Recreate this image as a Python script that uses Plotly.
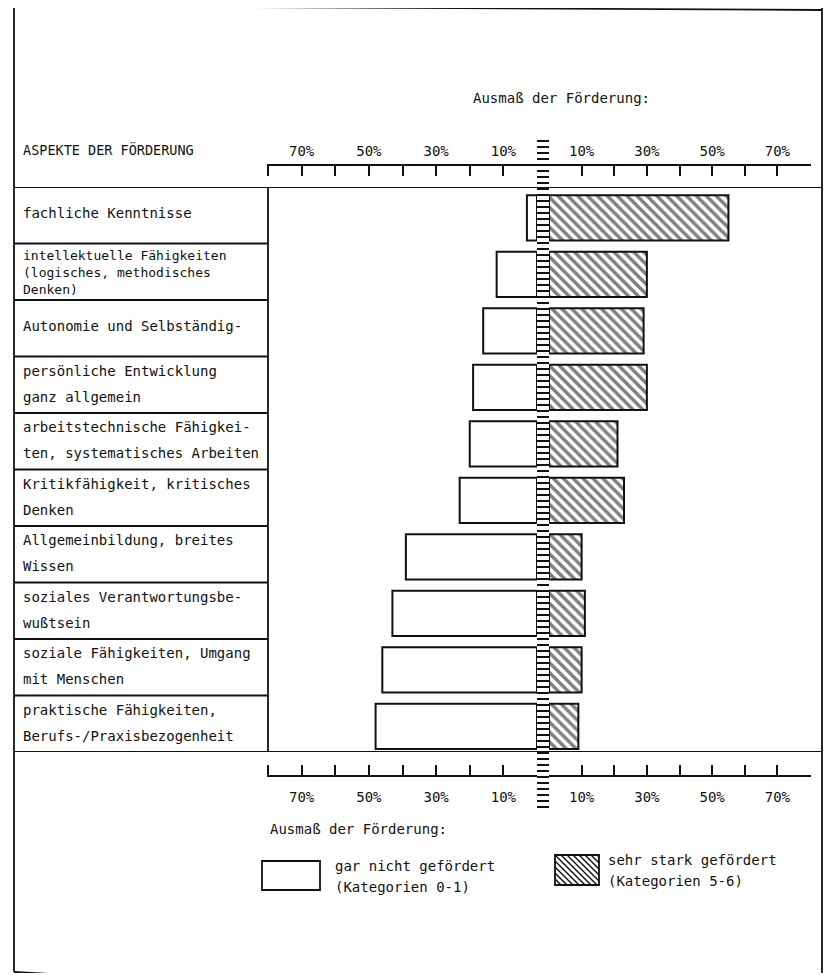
import plotly.graph_objects as go

# ---------------- data ----------------
categories = [
    "fachliche Kenntnisse",
    "intellektuelle Fähigkeiten (logisches, methodisches Denken)",
    "Autonomie und Selbständig-",
    "persönliche Entwicklung ganz allgemein",
    "arbeitstechnische Fähigkeiten, systematisches Arbeiten",
    "Kritikfähigkeit, kritisches Denken",
    "Allgemeinbildung, breites Wissen",
    "soziales Verantwortungsbewußtsein",
    "soziale Fähigkeiten, Umgang mit Menschen",
    "praktische Fähigkeiten, Berufs-/Praxisbezogenheit",
]
label_lines = [
    ["fachliche Kenntnisse"],
    ["intellektuelle Fähigkeiten", "(logisches, methodisches", "Denken)"],
    ["Autonomie und Selbständig-"],
    ["persönliche Entwicklung", "ganz allgemein"],
    ["arbeitstechnische Fähigkei-", "ten, systematisches Arbeiten"],
    ["Kritikfähigkeit, kritisches", "Denken"],
    ["Allgemeinbildung, breites", "Wissen"],
    ["soziales Verantwortungsbe-", "wußtsein"],
    ["soziale Fähigkeiten, Umgang", "mit Menschen"],
    ["praktische Fähigkeiten,", "Berufs-/Praxisbezogenheit"],
]
gar_nicht = [3, 12, 16, 19, 20, 23, 39, 43, 46, 48]      # Kategorien 0-1 (left)
sehr_stark = [55, 30, 29, 30, 21, 23, 10, 11, 10, 9]     # Kategorien 5-6 (right)
major_ticks = [10, 30, 50, 70, 80]
tick_text = ["10%", "30%", "50%", "70%", ""]
minor_ticks = [20, 40, 60]

header_title = "Ausmaß der Förderung:"
column_title = "ASPEKTE DER FÖRDERUNG"
legend_left = ["gar nicht gefördert", "(Kategorien 0-1)"]
legend_right = ["sehr stark gefördert", "(Kategorien 5-6)"]

# ---------------- layout helpers ----------------
OFF = 8                     # default page body margin
W, H = 830, 965
FONT = "DejaVu Sans Mono"
BLACK = "#111111"


def px(x):
    return (x - OFF) / W


def py(y):
    return 1 - (y - OFF) / H


LEFT0, LEFT_END = 537, 268
RIGHT0, RIGHT_END = 549, 810
TOP_PLOT, BOT_PLOT = 187, 752
LBL_X = 14
FRAME_R = 822
PAD = 0.3   # tiny range padding so the end ticks (80) are drawn

fig = go.Figure()
idx = list(range(len(categories)))

fig.add_trace(go.Bar(
    y=idx, x=gar_nicht, orientation="h", xaxis="x", yaxis="y",
    width=0.8, offset=-0.355,
    marker=dict(color="white", line=dict(color=BLACK, width=2)),
    name=legend_left[0], showlegend=False, hoverinfo="x",
))
fig.add_trace(go.Bar(
    y=idx, x=sehr_stark, orientation="h", xaxis="x2", yaxis="y",
    width=0.8, offset=-0.355,
    marker=dict(color="white", line=dict(color=BLACK, width=2),
                pattern=dict(shape="\\", fgcolor="#000000", bgcolor="white",
                             size=7, solidity=0.48)),
    name=legend_right[0], showlegend=False, hoverinfo="x",
))
# invisible helpers so the bottom axes render
for ax in ("x3", "x4"):
    fig.add_trace(go.Scatter(x=[0, 80], y=[0, 0], xaxis=ax, yaxis="y",
                             mode="markers", marker=dict(opacity=0),
                             showlegend=False, hoverinfo="skip"))


def axis(domain, rng, pos, side, standoff):
    return dict(
        domain=domain, range=rng, anchor="free", position=pos, side=side,
        showline=True, linecolor=BLACK, linewidth=1.8,
        ticks="inside", ticklen=10, tickwidth=1.8, tickcolor=BLACK,
        tickvals=major_ticks, ticktext=tick_text, ticklabelstandoff=standoff,
        tickfont=dict(family=FONT, size=14, color=BLACK),
        minor=dict(tickvals=minor_ticks, ticks="inside", ticklen=10,
                   tickwidth=1.8, tickcolor=BLACK, showgrid=False),
        showgrid=False, zeroline=False, fixedrange=True,
    )


lscale = (LEFT0 - LEFT_END) / 80
rscale = (RIGHT_END - RIGHT0) / 80
ldom = [px(LEFT_END - PAD * lscale), px(LEFT0)]
rdom = [px(RIGHT0), px(RIGHT_END + PAD * rscale)]
top_pos = py(165)
bot_pos = py(776)

fig.update_layout(
    width=W, height=H,
    margin=dict(l=0, r=0, t=0, b=0),
    paper_bgcolor="white", plot_bgcolor="rgba(0,0,0,0)",
    barmode="overlay",
    xaxis=axis(ldom, [80 + PAD, 0], top_pos, "top", 3),
    xaxis2=axis(rdom, [0, 80 + PAD], top_pos, "top", 3),
    xaxis3=axis(ldom, [80 + PAD, 0], bot_pos, "bottom", 8),
    xaxis4=axis(rdom, [0, 80 + PAD], bot_pos, "bottom", 8),
    yaxis=dict(domain=[py(BOT_PLOT), py(TOP_PLOT)], range=[9.5, -0.5],
               visible=False, fixedrange=True),
    showlegend=False,
)

shapes = []
line = dict(color=BLACK, width=1.8)
# outer frame
shapes.append(dict(type="line", xref="paper", yref="paper",
                   x0=px(LBL_X), x1=px(LBL_X), y0=py(5), y1=py(972), line=line))
shapes.append(dict(type="line", xref="paper", yref="paper",
                   x0=px(LBL_X), x1=px(FRAME_R), y0=py(6), y1=py(10), line=line))
shapes.append(dict(type="line", xref="paper", yref="paper",
                   x0=px(FRAME_R), x1=px(FRAME_R), y0=py(8), y1=py(975), line=line))
shapes.append(dict(type="line", xref="paper", yref="paper",
                   x0=px(LBL_X), x1=px(50), y0=py(972), y1=py(974), line=line))
# table header / bottom lines (full width)
for yv in (-0.5, len(categories) - 0.5):
    shapes.append(dict(type="line", xref="paper", yref="y",
                       x0=px(LBL_X), x1=px(FRAME_R), y0=yv, y1=yv, line=line))
# label column separators
for i in range(len(categories) - 1):
    shapes.append(dict(type="line", xref="paper", yref="y",
                       x0=px(LBL_X), x1=px(LEFT_END), y0=i + 0.5, y1=i + 0.5, line=line))
shapes.append(dict(type="line", xref="paper", yref="y",
                   x0=px(LEFT_END), x1=px(LEFT_END), y0=-0.5,
                   y1=len(categories) - 0.5, line=line))
# central dashed divider
cx = (LEFT0 + RIGHT0) / 2
shapes.append(dict(type="line", xref="paper", yref="paper", layer="above",
                   x0=px(cx), x1=px(cx), y0=py(140), y1=py(812),
                   line=dict(color=BLACK, width=12, dash="2px,4px")))

# legend swatches
wx0, wx1, wy0, wy1 = 262, 320, 861, 890
shapes.append(dict(type="rect", xref="paper", yref="paper",
                   x0=px(wx0), x1=px(wx1), y0=py(wy1), y1=py(wy0),
                   fillcolor="white", line=line))
hx0, hx1, hy0, hy1 = 555, 599, 855, 885
shapes.append(dict(type="rect", xref="paper", yref="paper",
                   x0=px(hx0), x1=px(hx1), y0=py(hy1), y1=py(hy0),
                   fillcolor="white", line=line))
# "\" hatching inside the swatch: lines x - y = c
step = 6
c = hx0 - hy1
while c < hx1 - hy0:
    xa = max(hx0, c + hy0)
    xb = min(hx1, c + hy1)
    if xb > xa:
        shapes.append(dict(type="line", xref="paper", yref="paper",
                           x0=px(xa), y0=py(xa - c), x1=px(xb), y1=py(xb - c),
                           line=dict(color=BLACK, width=1.5)))
    c += step

fig.update_layout(shapes=shapes)

ann = []


def text(x, y, s, anchor="left", size=14, xref="paper", yref="paper"):
    ann.append(dict(x=x, y=y, xref=xref, yref=yref, text=s, showarrow=False,
                    xanchor=anchor, yanchor="middle", align="left",
                    font=dict(family=FONT, size=size, color=BLACK)))


text(px(561), py(98), header_title, anchor="center")
text(px(21), py(149), column_title, size=13.5)
text(px(268), py(829), header_title)

row_px = (BOT_PLOT - TOP_PLOT) / len(categories)
offsets = {1: [-2], 2: [-14, 12]}
for i, lines in enumerate(label_lines):
    if len(lines) >= 3:
        text(px(21), i + 1 / row_px, "<br>".join(lines), yref="y", size=13)
        continue
    for k, ln in enumerate(lines):
        dy = offsets[len(lines)][k] / row_px
        text(px(21), i + dy, ln, yref="y", size=14)

text(px(333), py(866), legend_left[0])
text(px(333), py(887), legend_left[1])
text(px(606), py(860), legend_right[0])
text(px(606), py(881), legend_right[1])

fig.update_layout(annotations=ann)

fig.write_html("out.html")
